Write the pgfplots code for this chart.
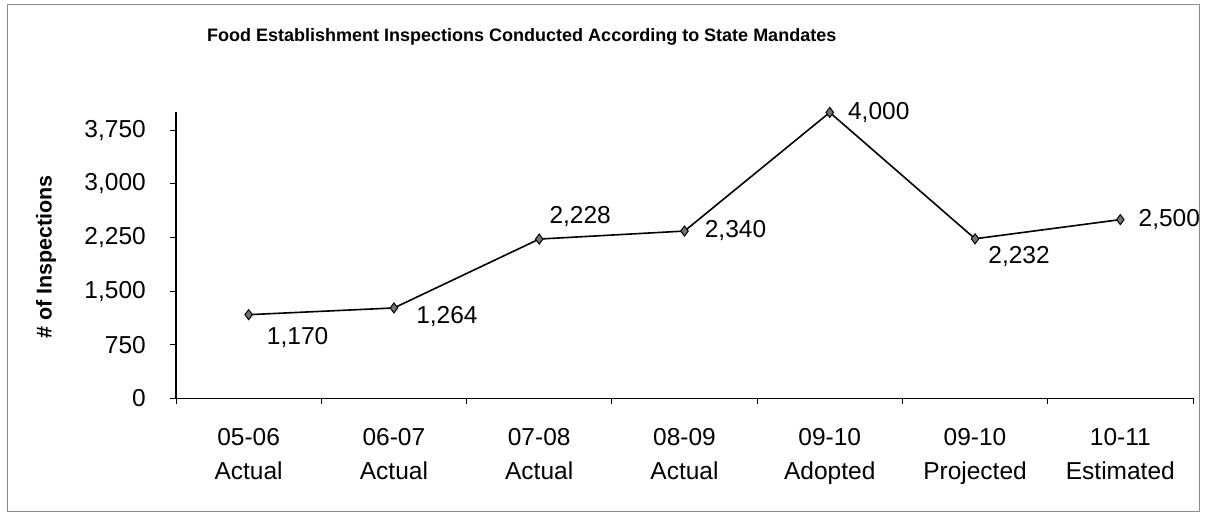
\documentclass[border=0pt]{standalone}
\usepackage{pgfplots}
\usepackage{pgfplotstable}
\usepackage{fontspec}
\setmainfont{Liberation Sans}
\pgfplotsset{compat=1.18}
\pgfplotstableread{
x y dx dy
1 1170 49 -23
2 1264 53 -9
3 2228 41 23
4 2340 51 1
5 4000 49 0
6 2232 44 -18
7 2500 49 0
}\datatable
\begin{document}
\begin{tikzpicture}[x=1pt,y=1pt]
\path (0,0) rectangle (1206,514);
\draw[black!45, line width=0.8pt] (7,3) rectangle (1199,510);
\node[anchor=base west, font=\fontsize{18}{20}\selectfont\bfseries, inner sep=0pt] at (207,472) {Food Establishment Inspections Conducted According to State Mandates};
\node[rotate=90, font=\fontsize{21.5}{24}\selectfont\bfseries, inner sep=0pt] at (46,257) {\# of Inspections};
\begin{axis}[
  at={(176pt,115.7pt)}, anchor=south west,
  scale only axis, width=1017pt, height=286.6pt,
  xmin=0.5, xmax=7.5, ymin=0, ymax=4010,
  axis x line*=bottom, axis y line*=left,
  axis line style={line width=1.1pt, black},
  tick align=outside, major tick length=6pt,
  tick style={line width=0.8pt, black},
  xtick={0.5,1.5,...,7.5}, xticklabels={},
  extra x ticks={1,2,3,4,5,6,7},
  extra x tick labels={05-06\\Actual,06-07\\Actual,07-08\\Actual,08-09\\Actual,09-10\\Adopted,09-10\\Projected,10-11\\Estimated},
  extra x tick style={major tick length=0pt, tick style={draw=none}},
  xticklabel style={align=center, font=\fontsize{24.5}{34}\selectfont, inner sep=0pt, anchor=north, yshift=-30pt},
  ytick={0,750,1500,2250,3000,3750},
  yticklabel style={font=\fontsize{24.5}{28}\selectfont, inner sep=0pt, anchor=east, xshift=-24pt},
  /pgf/number format/.cd, assume math mode=true, 1000 sep={,},
  /pgfplots/.cd,
  scaled y ticks=false,
  clip=false,
]
\addplot[black, line width=1.6pt, mark=diamond*, mark size=5pt,
  mark options={fill=black!55, draw=black, line width=1pt},
  nodes near coords,
  visualization depends on={\thisrow{dx} \as \dx},
  visualization depends on={\thisrow{dy} \as \dy},
  nodes near coords style={anchor=center, inner sep=0pt, xshift=\dx pt, yshift=\dy pt, font=\fontsize{24.5}{28}\selectfont, text=black},
] table[x=x, y=y] {\datatable};
\end{axis}
\end{tikzpicture}
\end{document}
